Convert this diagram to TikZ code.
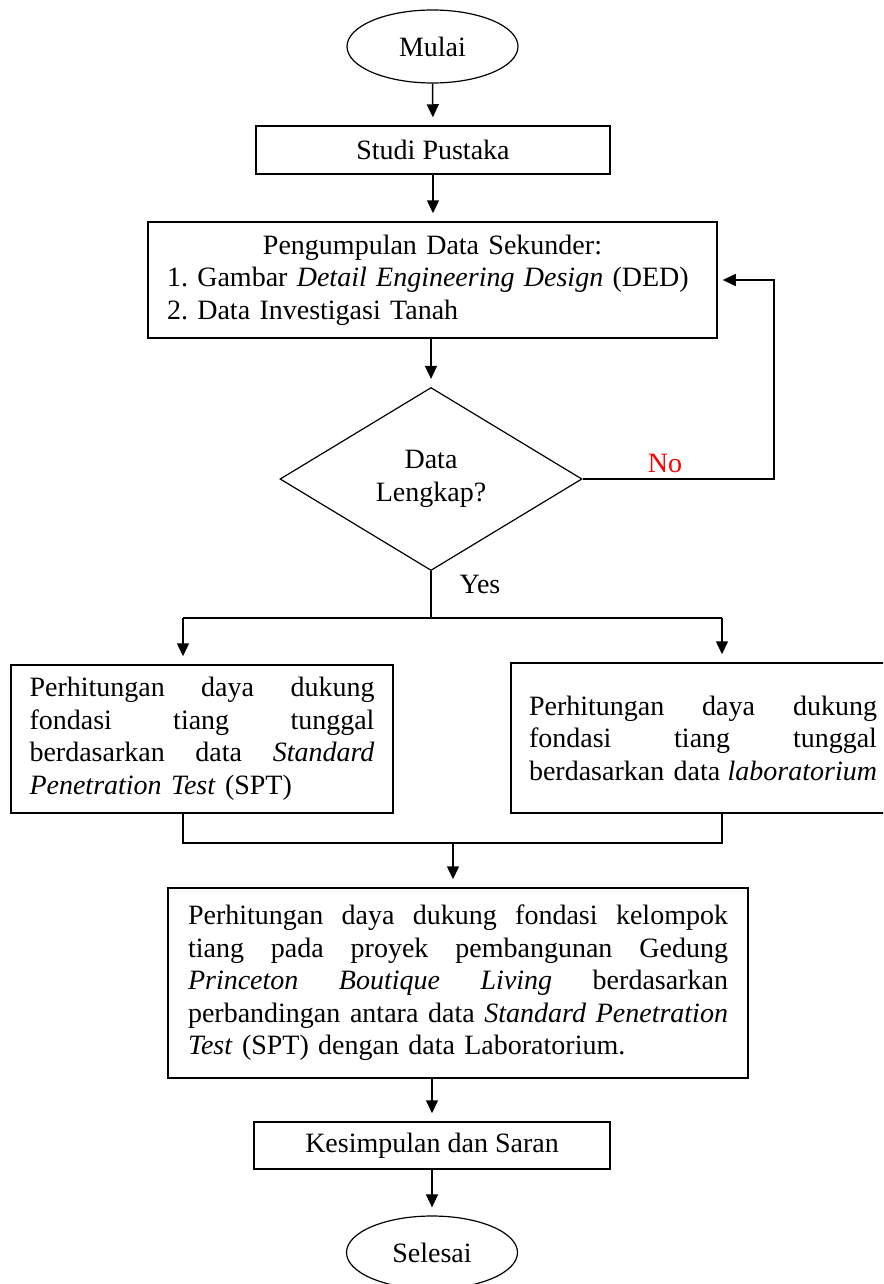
\documentclass[tikz,border=0pt]{standalone}
\usepackage{fontspec}
\setmainfont{Liberation Serif}
\usetikzlibrary{shapes.geometric,arrows.meta}
\frenchspacing
\begin{document}
\begin{tikzpicture}[x=1pt,y=-1pt,
  every node/.style={font=\fontsize{28}{32.5}\selectfont},
  box/.style={draw, rectangle, line width=1.5pt, inner sep=0pt, align=center},
  term/.style={draw, ellipse, line width=1.2pt, minimum width=171pt, minimum height=73pt, inner sep=0pt},
  decision/.style={draw, diamond, line width=1.2pt, minimum width=302pt, minimum height=183pt, inner sep=0pt, align=center},
  conn/.style={line width=1.5pt},
  arr/.style={line width=1.5pt, -{Triangle[length=13pt,width=12pt]}, shorten >=8pt},
  lbl/.style={anchor=base, inner sep=0pt}
]
\useasboundingbox (0,0) rectangle (883,1284);
\clip (0,0) rectangle (883,1284);

% nodes
\node[term] (start) at (432.5,46.5) {Mulai};
\node[box, minimum width=354pt, minimum height=48pt] (studi) at (433,150) {Studi Pustaka};
\node[box, text width=531pt, inner xsep=19pt, minimum height=116pt, align=left] (pg) at (432.5,280)
  {\makebox[531pt][c]{Pengumpulan Data Sekunder:}\\
   1. Gambar \textit{Detail Engineering Design} (DED)\\
   2. Data Investigasi Tanah};
\node[decision] (dec) at (431,479) {Data\\Lengkap?};
\node[box, text width=345pt, inner xsep=18.5pt, minimum height=148pt, align=left] (lb) at (202,739)
  {Perhitungan\hfill daya\hfill dukung\\
   fondasi\hfill tiang\hfill tunggal\\
   berdasarkan\hfill data\hfill \textit{Standard}\\
   \textit{Penetration Test} (SPT)};
\node[box, text width=348pt, inner xsep=18pt, minimum height=150pt, align=left] (rb) at (703,738)
  {Perhitungan\hfill daya\hfill dukung\\
   fondasi\hfill tiang\hfill tunggal\\
   berdasarkan data\hfill \textit{laboratorium}};
\node[box, text width=540pt, inner xsep=20pt, minimum height=190pt, align=left] (fb) at (458,983)
  {Perhitungan\hfill daya\hfill dukung\hfill fondasi\hfill kelompok\\
   tiang\hfill pada\hfill proyek\hfill pembangunan\hfill Gedung\\
   \textit{Princeton}\hfill \textit{Boutique}\hfill \textit{Living}\hfill berdasarkan\\
   perbandingan\hfill antara\hfill data\hfill \textit{Standard}\hfill \textit{Penetration}\\
   \textit{Test} (SPT) dengan data Laboratorium.};
\node[box, minimum width=356pt, minimum height=47pt] (ks) at (432,1145.5) {Kesimpulan dan Saran};
\node[term] (end) at (432,1252.5) {Selesai};

% labels
\node[lbl, text=red] (no) at (665,472) {No};
\node[lbl] (yes) at (480,593) {Yes};

% helper coordinates
\coordinate (loop) at (774,479);
\coordinate (bl) at (183,618);
\coordinate (br) at (722,618);
\coordinate (ml) at (183,843);
\coordinate (mr) at (722,843);
\coordinate (mm) at (453,843);

% connectors
\draw[arr] (start.south) -- (studi.north);
\draw[arr] (studi.south) -- (studi.south |- pg.north);
\draw[arr] (dec.north |- pg.south) -- (dec.north);
\draw[arr, shorten >=5pt] (dec.east) -- (dec.east -| loop) |- (pg.east);
\draw[conn] (dec.south) -- (dec.south |- bl);
\draw[conn] (bl) -- (br);
\draw[arr] (bl) -- (bl |- lb.north);
\draw[arr] (br) -- (br |- rb.north);
\draw[conn] (ml |- lb.south) -- (ml) -- (mr) -- (mr |- rb.south);
\draw[arr] (mm) -- (mm |- fb.north);
\draw[arr] (ks.north |- fb.south) -- (ks.north);
\draw[arr] (ks.south) -- (end.north);
\end{tikzpicture}
\end{document}
